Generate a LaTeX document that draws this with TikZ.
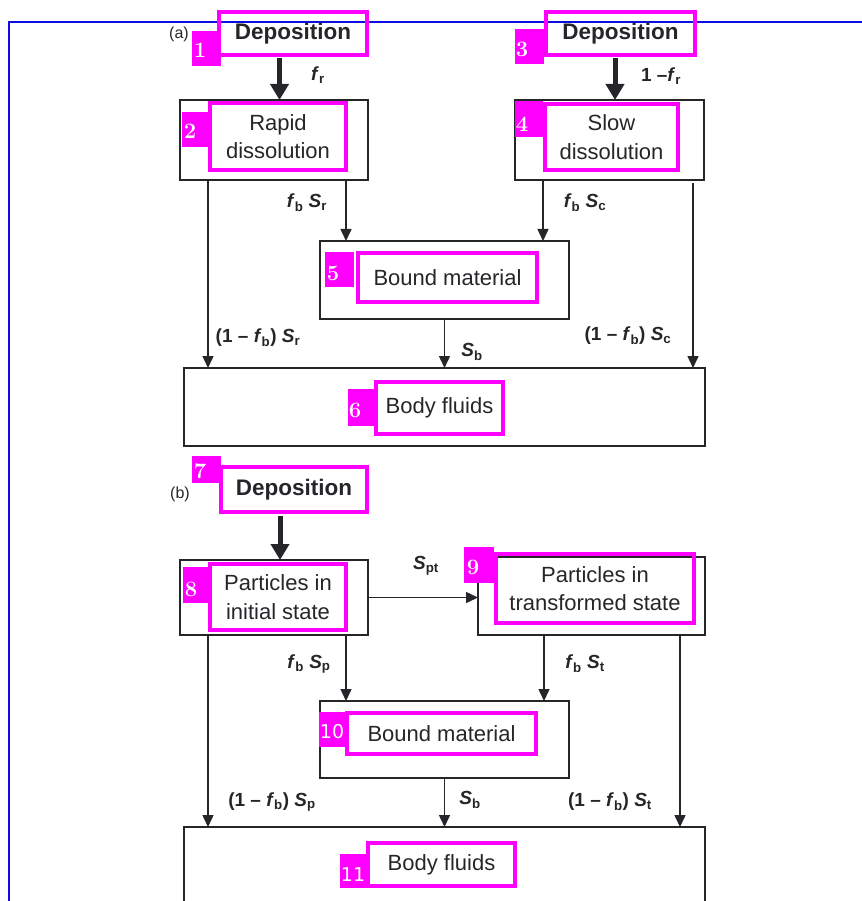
\documentclass[tikz,border=0pt]{standalone}
\usepackage{fontspec}
\setsansfont{Liberation Sans}
\newfontfamily\dvsans{DejaVu Sans}
\usetikzlibrary{arrows.meta}

\definecolor{mag}{RGB}{255,0,255}
\definecolor{ink}{RGB}{38,38,42}
\definecolor{frameblue}{RGB}{12,12,225}

\newcommand\boxfont{\sffamily\fontsize{22}{28.5}\selectfont}
\newcommand\depfont{\sffamily\bfseries\fontsize{22.5}{27}\selectfont}
\newcommand\lblfont{\sffamily\bfseries\fontsize{19}{22}\selectfont}
\newcommand\numfont{\rmfamily\bfseries\fontsize{22}{22}\selectfont}
\newcommand\numsans{\dvsans\fontsize{19}{19}\selectfont}
\newcommand\sy[2]{\textit{#1}\textsubscript{#2}}

\tikzset{
  box/.style={draw=ink, line width=1.5pt, inner sep=0pt, outer sep=0pt},
  hl/.style={draw=mag, line width=4pt, inner sep=0pt, outer sep=0pt,
             text=ink, align=center, font=\boxfont},
  hldep/.style={hl, font=\depfont},
  tag/.style={fill=mag, inner sep=0pt, outer sep=0pt},
  num/.style={text=white, inner sep=0pt, font=\numfont},
  numb/.style={text=white, inner sep=0pt, font=\numsans},
  flow/.style={draw=ink, line width=1.5pt, -{Triangle[width=11pt,length=12pt]}},
  feed/.style={draw=ink, line width=5pt, -{Triangle[width=18pt,length=16pt]}},
  lbl/.style={text=ink, inner sep=0pt, font=\lblfont},
  part/.style={text=ink, inner sep=0pt, font=\sffamily\fontsize{16}{16}\selectfont}
}

\begin{document}
\begin{tikzpicture}[x=1pt, y=-1pt]
\useasboundingbox (0,0) rectangle (861,901);

% page frame
\draw[frameblue, line width=2pt] (870,22) -- (9,22) -- (9,910);

% ---------------- part (a) ----------------
\node[part] (pa) at (179,34) {(a)};

% compartments
\node[box, minimum width=188pt, minimum height=80pt] (rapid) at (274,140) {};
\node[box, minimum width=189pt, minimum height=80pt] (slow) at (609.5,140) {};
\node[box, minimum width=249pt, minimum height=78pt] (boundA) at (444.5,280) {};
\node[box, minimum width=521pt, minimum height=78pt] (bodyA) at (444.5,407) {};

% highlighted labels
\node[hldep, minimum width=148pt, minimum height=43pt] (m1) at (293,33.5) {\raisebox{-2pt}{Deposition}};
\node[hl, minimum width=136pt, minimum height=67pt] (m2) at (278,136.5) {Rapid\\dissolution};
\node[hldep, minimum width=149pt, minimum height=43pt] (m3) at (620.5,33.5) {\raisebox{-2pt}{Deposition}};
\node[hl, minimum width=133pt, minimum height=66pt] (m4) at (611.5,137) {Slow\\dissolution};
\node[hl, minimum width=179pt, minimum height=49pt] (m5) at (447.5,277.5) {Bound material};
\node[hl, minimum width=127pt, minimum height=52pt] (m6) at (439.5,408) {\raisebox{-2pt}{Body fluids}};

% numbered tags
\node[tag, minimum width=29pt, minimum height=35pt] (t1) at (206.5,48.5) {};
\node[num] (n1) at (200,50) {1};
\node[tag, minimum width=28pt, minimum height=35pt] (t2) at (196,129.5) {};
\node[num] (n2) at (190,131) {2};
\node[tag, minimum width=29pt, minimum height=35pt] (t3) at (529.5,46.5) {};
\node[num] (n3) at (522,49) {3};
\node[tag, minimum width=28pt, minimum height=36pt] (t4) at (529,119) {};
\node[num] (n4) at (522,124) {4};
\node[tag, minimum width=29pt, minimum height=35pt] (t5) at (339.5,269.5) {};
\node[num] (n5) at (333,273) {5};
\node[tag, minimum width=27pt, minimum height=37pt] (t6) at (361.5,407.5) {};
\node[num] (n6) at (355,410) {6};

% flow columns
\coordinate (cF1) at (279.5,0);
\coordinate (cF2) at (615,0);
\coordinate (cL) at (208,0);
\coordinate (cM1) at (346,0);
\coordinate (cM2) at (543,0);
\coordinate (cR) at (693,0);

% flows
\draw[feed, shorten <=3pt] (cF1 |- m1.south) -- (cF1 |- rapid.north);
\draw[feed, shorten <=3pt] (cF2 |- m3.south) -- (cF2 |- slow.north);
\draw[flow] (cL |- rapid.south) -- (cL |- bodyA.north);
\draw[flow] (cM1 |- rapid.south) -- (cM1 |- boundA.north);
\draw[flow] (cM2 |- slow.south) -- (cM2 |- boundA.north);
\draw[flow] ([yshift=-3pt]cR |- slow.south) -- (cR |- bodyA.north);
\draw[flow] (boundA.south) -- (boundA.south |- bodyA.north);

% flow labels
\node[lbl] (lfr) at (318,75) {\sy{f}{r}};
\node[lbl] (l1fr) at (661,76) {1 –\sy{f}{r}};
\node[lbl] (lfbsr) at (307,203) {\sy{f}{b} \sy{S}{r}};
\node[lbl] (lfbsc) at (585,203) {\sy{f}{b} \sy{S}{c}};
\node[lbl] (l1fbsr) at (258,338) {(1 – \sy{f}{b}) \sy{S}{r}};
\node[lbl] (lsbA) at (472,352) {\sy{S}{b}};
\node[lbl] (l1fbsc) at (628,336) {(1 – \sy{f}{b}) \sy{S}{c}};

% ---------------- part (b) ----------------
\node[part] (pb) at (180,494) {(b)};

\node[box, minimum width=188pt, minimum height=75pt] (init) at (274,597.5) {};
\node[box, minimum width=227pt, minimum height=78pt] (trans) at (591.5,596) {};
\node[box, minimum width=249pt, minimum height=77pt] (boundB) at (444.5,739.5) {};
\node[box, minimum width=521pt, minimum height=80pt] (bodyB) at (444.5,867) {};

\node[hldep, minimum width=146pt, minimum height=45pt] (m7) at (294,489.5) {\raisebox{-2pt}{Deposition}};
\node[hl, minimum width=136pt, minimum height=66pt] (m8) at (278,597) {Particles in\\initial state};
\node[hl, minimum width=198pt, minimum height=69pt] (m9) at (595,588.5) {Particles in\\transformed state};
\node[hl, minimum width=189pt, minimum height=41pt] (m10) at (441.5,733.5) {\raisebox{-3pt}{Bound material}};
\node[hl, minimum width=147pt, minimum height=43pt] (m11) at (441.5,864.5) {\raisebox{-3pt}{Body fluids}};

\node[tag, minimum width=29pt, minimum height=27pt] (t7) at (206.5,469.5) {};
\node[num] (n7) at (200,471) {7};
\node[tag, minimum width=25pt, minimum height=36pt] (t8) at (195.5,585) {};
\node[num] (n8) at (191,589) {8};
\node[tag, minimum width=30pt, minimum height=36pt] (t9) at (479,565) {};
\node[num] (n9) at (473,567) {9};
\node[tag, minimum width=26pt, minimum height=35pt] (t10) at (332,729.5) {};
\node[numb] (n10) at (332,732) {10};
\node[tag, minimum width=28pt, minimum height=34pt] (t11) at (354,871) {};
\node[numb] (n11) at (353,875) {11};

\coordinate (cF3) at (280,0);
\coordinate (cL2) at (208,0);
\coordinate (cM3) at (346,0);
\coordinate (cM4) at (544,0);
\coordinate (cR2) at (680,0);

\draw[feed, shorten <=4pt] (cF3 |- m7.south) -- (cF3 |- init.north);
\draw[flow] (init.east) -- (init.east -| trans.west);
\draw[flow] (cL2 |- init.south) -- (cL2 |- bodyB.north);
\draw[flow] (cM3 |- init.south) -- (cM3 |- boundB.north);
\draw[flow] (cM4 |- trans.south) -- (cM4 |- boundB.north);
\draw[flow] (cR2 |- trans.south) -- (cR2 |- bodyB.north);
\draw[flow] (boundB.south) -- (boundB.south |- bodyB.north);

\node[lbl] (lspt) at (426,566) {\sy{S}{pt}};
\node[lbl] (lfbsp) at (309,664) {\sy{f}{b} \sy{S}{p}};
\node[lbl] (lfbst) at (585,664) {\sy{f}{b} \sy{S}{t}};
\node[lbl] (l1fbsp) at (272,802) {(1 – \sy{f}{b}) \sy{S}{p}};
\node[lbl] (lsbB) at (470,800) {\sy{S}{b}};
\node[lbl] (l1fbst) at (610,802) {(1 – \sy{f}{b}) \sy{S}{t}};
\end{tikzpicture}
\end{document}
